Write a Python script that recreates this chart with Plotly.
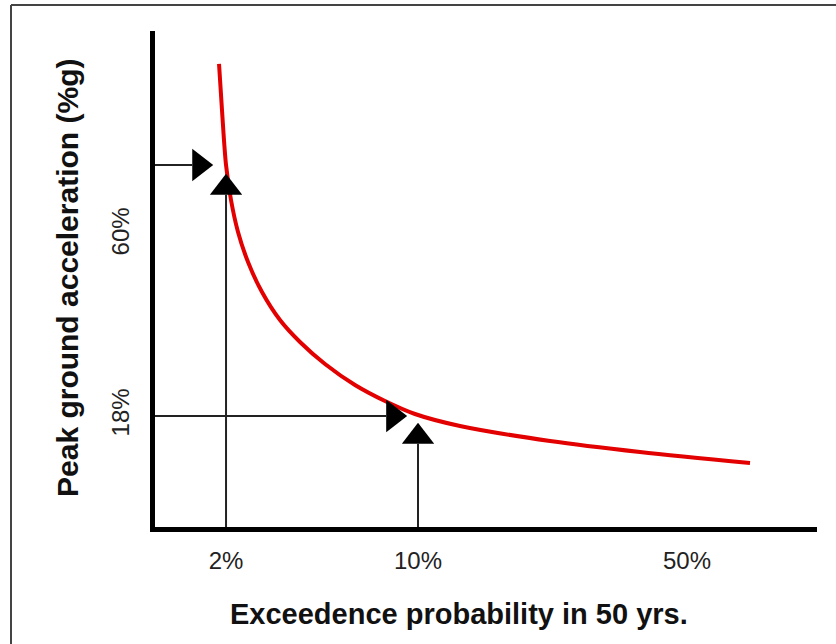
import plotly.graph_objects as go

# Schematic hazard curve (abstract units 0-100 on both axes)
curve_x = [9.67, 10.12, 10.73, 11.48, 12.54, 14.05, 16.16, 18.88, 21.90, 25.68,
           30.21, 34.74, 39.27, 46.07, 59.67, 73.26, 89.88]
curve_y = [93.35, 84.07, 72.98, 65.93, 59.48, 53.43, 47.38, 41.73, 37.30, 32.86,
           28.63, 25.40, 22.78, 20.36, 17.34, 15.12, 12.90]

x_tick_vals = [10.73, 39.73, 80.36]
x_tick_text = ["2%", "10%", "50%"]
y_tick_vals = [58.87, 22.38]
y_tick_text = ["60%", "18%"]

# guide lines: (exceedence position, PGA level)
guide_x = [10.73, 39.73]
guide_level = [72.98, 22.38]
guide_h_end = [5.62, 34.92]
guide_v_end = [66.98, 16.77]

# arrowheads
right_tri_x = [6.68, 35.98]
right_tri_y = [72.98, 22.38]
up_tri_x = [10.73, 39.73]
up_tri_y = [68.39, 18.19]

LINE = "#222222"
fig = go.Figure()

for gx, gl, he, ve in zip(guide_x, guide_level, guide_h_end, guide_v_end):
    fig.add_trace(go.Scatter(x=[0, he], y=[gl, gl], mode="lines",
                             line=dict(color=LINE, width=2), hoverinfo="skip"))
    fig.add_trace(go.Scatter(x=[gx, gx], y=[0, ve], mode="lines",
                             line=dict(color=LINE, width=2), hoverinfo="skip"))

fig.add_trace(go.Scatter(x=curve_x, y=curve_y, mode="lines",
                         line=dict(color="rgb(226,0,0)", width=4, shape="spline", smoothing=0.9)))

fig.add_trace(go.Scatter(x=right_tri_x, y=right_tri_y, mode="markers",
                         marker=dict(symbol="triangle-right", size=28, color="black",
                                     line=dict(width=0))))
fig.add_trace(go.Scatter(x=up_tri_x, y=up_tri_y, mode="markers",
                         marker=dict(symbol="triangle-up", size=28, color="black",
                                     line=dict(width=0))))

fig.update_layout(
    width=836, height=644,
    margin=dict(l=155, r=19, t=31, b=117),
    paper_bgcolor="white", plot_bgcolor="white",
    showlegend=False,
    font=dict(family="Liberation Sans, Arial, sans-serif", color="#222222"),
    xaxis=dict(range=[0, 100], showgrid=False, zeroline=False,
               showline=True, linewidth=5, linecolor="black",
               tickvals=x_tick_vals, ticktext=x_tick_text,
               ticks="outside", ticklen=8, tickcolor="rgba(0,0,0,0)",
               tickfont=dict(size=24, color="#222222")),
    yaxis=dict(range=[0, 100], showgrid=False, zeroline=False,
               showline=True, linewidth=5, linecolor="black",
               tickvals=y_tick_vals, ticktext=y_tick_text, tickangle=-90,
               ticks="outside", ticklen=11, tickcolor="rgba(0,0,0,0)",
               tickfont=dict(size=24, color="#222222")),
    annotations=[
        dict(text="<b>Exceedence probability in 50 yrs.</b>", xref="paper", yref="paper",
             x=(459 - 155) / 662, y=(527 - 614) / 496, xanchor="center", yanchor="middle",
             showarrow=False, font=dict(size=29, color="#111111")),
        dict(text="<b>Peak ground acceleration (%g)</b>", xref="paper", yref="paper",
             x=(67 - 155) / 662, y=(527 - 278) / 496, xanchor="center", yanchor="middle",
             textangle=-90, showarrow=False, font=dict(size=30, color="#111111")),
    ],
    shapes=[
        dict(type="line", xref="paper", yref="paper",
             x0=(11 - 155) / 662, x1=(11 - 155) / 662, y0=(527 - 660) / 496, y1=(527 - 5) / 496,
             line=dict(color="#444444", width=2)),
        dict(type="line", xref="paper", yref="paper",
             x0=(11 - 155) / 662, x1=(850 - 155) / 662, y0=(527 - 5) / 496, y1=(527 - 5) / 496,
             line=dict(color="#444444", width=2)),
    ],
)

fig.write_html("out.html", config={"displayModeBar": False},
               post_script="document.body.style.margin='0px';")
